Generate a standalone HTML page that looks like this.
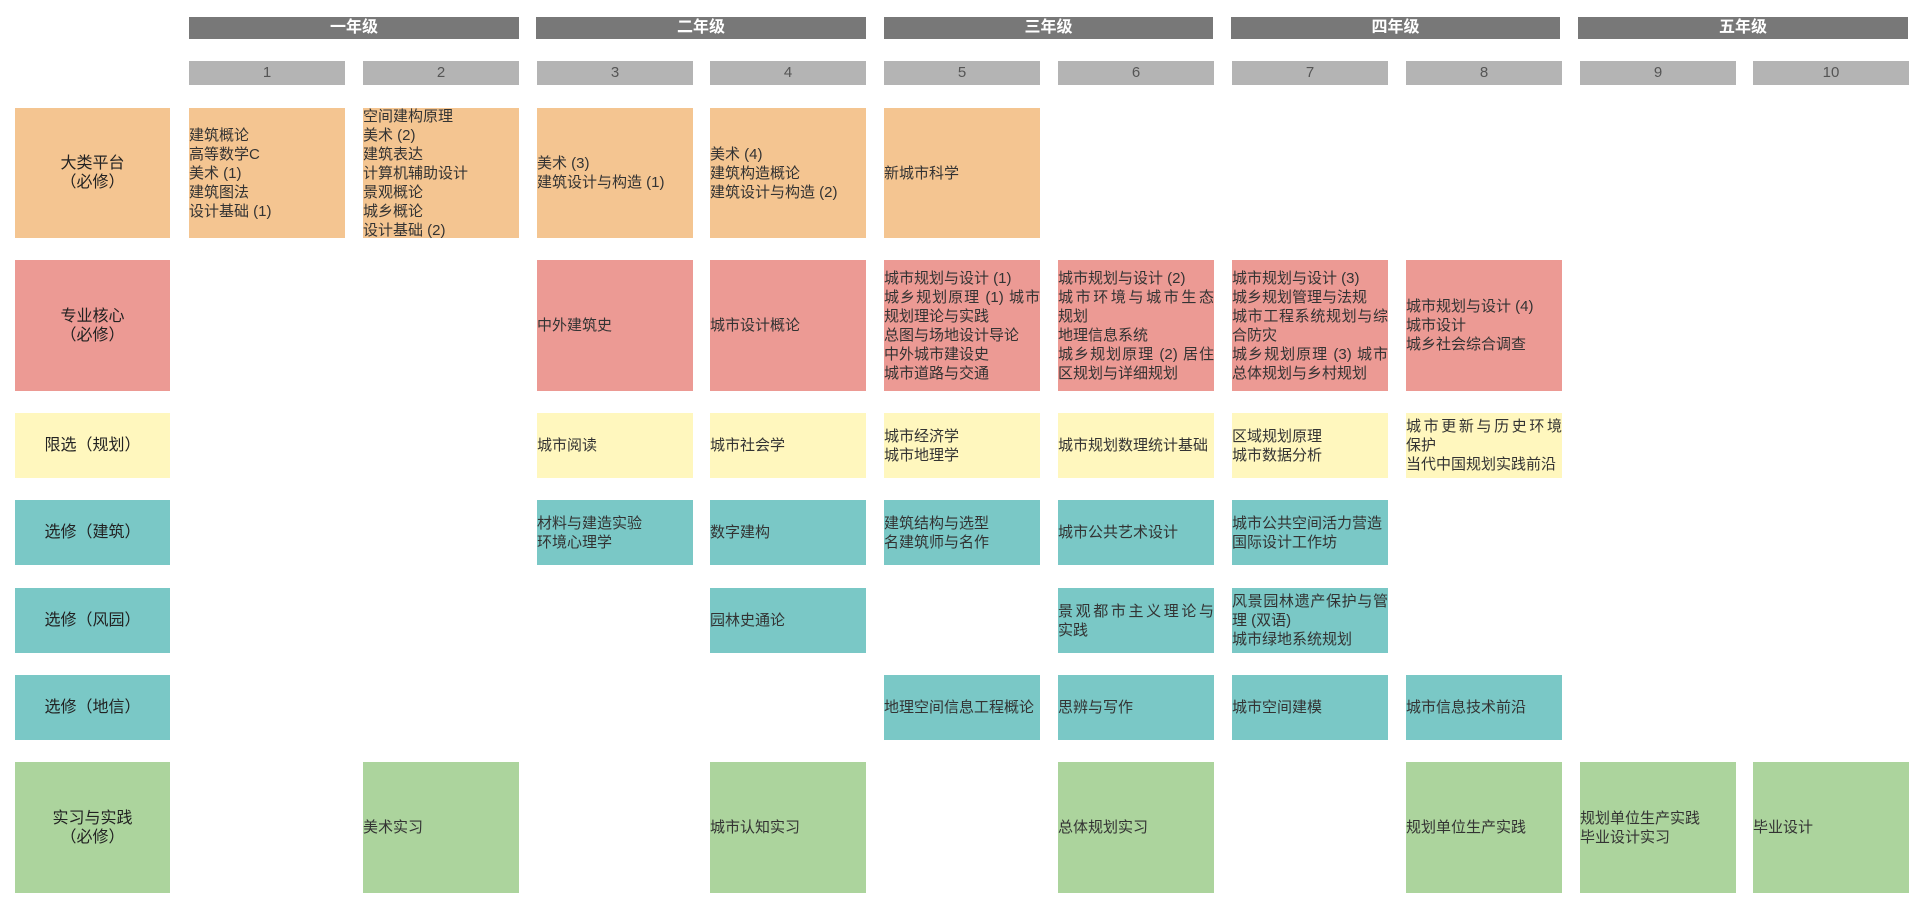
<!DOCTYPE html>
<html><head><meta charset="utf-8"><style>
body{margin:0;width:1920px;height:914px;background:#fff;position:relative;overflow:hidden;font-family:"Liberation Sans","Noto Sans CJK SC",sans-serif}
.b{position:absolute;display:flex;flex-direction:column;justify-content:center;box-sizing:border-box;font-size:15px;line-height:19px;color:#333;text-align:justify;text-align-last:left}
.j{display:block;text-align-last:justify}
.y{position:absolute;top:17px;height:22px;background:#787878;color:#fff;font-weight:bold;font-size:16px;line-height:22px;text-align:center}
.s{position:absolute;top:61px;height:24px;background:#b4b4b4;color:#555;font-size:15px;line-height:24px;text-align:center}
.l{position:absolute;left:15px;width:155px;display:flex;align-items:center;justify-content:center;text-align:center;font-size:16px;line-height:19px;color:#222}
.o{background:#f4c591}.r{background:#ec9a94}.ye{background:#fff7be}.t{background:#7ac8c6}.g{background:#acd49d}
</style></head><body>
<div class="y" style="left:189px;width:330px">一年级</div>
<div class="y" style="left:536px;width:330px">二年级</div>
<div class="y" style="left:884px;width:329px">三年级</div>
<div class="y" style="left:1231px;width:329px">四年级</div>
<div class="y" style="left:1578px;width:330px">五年级</div>
<div class="s" style="left:189px;width:156px">1</div>
<div class="s" style="left:363px;width:156px">2</div>
<div class="s" style="left:537px;width:156px">3</div>
<div class="s" style="left:710px;width:156px">4</div>
<div class="s" style="left:884px;width:156px">5</div>
<div class="s" style="left:1058px;width:156px">6</div>
<div class="s" style="left:1232px;width:156px">7</div>
<div class="s" style="left:1406px;width:156px">8</div>
<div class="s" style="left:1580px;width:156px">9</div>
<div class="s" style="left:1753px;width:156px">10</div>

<div class="l o" style="top:108px;height:130px">大类平台<br>（必修）</div>
<div class="l r" style="top:260px;height:131px">专业核心<br>（必修）</div>
<div class="l ye" style="top:413px;height:65px">限选（规划）</div>
<div class="l t" style="top:500px;height:65px">选修（建筑）</div>
<div class="l t" style="top:588px;height:65px">选修（风园）</div>
<div class="l t" style="top:675px;height:65px">选修（地信）</div>
<div class="l g" style="top:762px;height:131px">实习与实践<br>（必修）</div>

<div class="b o" style="left:189px;top:108px;width:156px;height:130px">建筑概论<br>高等数学C<br>美术 (1)<br>建筑图法<br>设计基础 (1)</div>
<div class="b o" style="left:363px;top:108px;width:156px;height:130px">空间建构原理<br>美术 (2)<br>建筑表达<br>计算机辅助设计<br>景观概论<br>城乡概论<br>设计基础 (2)</div>
<div class="b o" style="left:537px;top:108px;width:156px;height:130px">美术 (3)<br>建筑设计与构造 (1)</div>
<div class="b o" style="left:710px;top:108px;width:156px;height:130px">美术 (4)<br>建筑构造概论<br>建筑设计与构造 (2)</div>
<div class="b o" style="left:884px;top:108px;width:156px;height:130px">新城市科学</div>

<div class="b r" style="left:537px;top:260px;width:156px;height:131px">中外建筑史</div>
<div class="b r" style="left:710px;top:260px;width:156px;height:131px">城市设计概论</div>
<div class="b r" style="left:884px;top:260px;width:156px;height:131px"><div>城市规划与设计 (1)<span class="j">城乡规划原理 (1) 城市</span>规划理论与实践<br>总图与场地设计导论<br>中外城市建设史<br>城市道路与交通</div></div>
<div class="b r" style="left:1058px;top:260px;width:156px;height:131px"><div>城市规划与设计 (2)<span class="j">城市环境与城市生态</span>规划<br>地理信息系统<span class="j">城乡规划原理 (2) 居住</span>区规划与详细规划</div></div>
<div class="b r" style="left:1232px;top:260px;width:156px;height:131px"><div>城市规划与设计 (3)<br>城乡规划管理与法规<span class="j">城市工程系统规划与综</span>合防灾<span class="j">城乡规划原理 (3) 城市</span>总体规划与乡村规划</div></div>
<div class="b r" style="left:1406px;top:260px;width:156px;height:131px">城市规划与设计 (4)<br>城市设计<br>城乡社会综合调查</div>

<div class="b ye" style="left:537px;top:413px;width:156px;height:65px">城市阅读</div>
<div class="b ye" style="left:710px;top:413px;width:156px;height:65px">城市社会学</div>
<div class="b ye" style="left:884px;top:413px;width:156px;height:65px">城市经济学<br>城市地理学</div>
<div class="b ye" style="left:1058px;top:413px;width:156px;height:65px">城市规划数理统计基础</div>
<div class="b ye" style="left:1232px;top:413px;width:156px;height:65px">区域规划原理<br>城市数据分析</div>
<div class="b ye" style="left:1406px;top:413px;width:156px;height:65px"><div><span class="j">城市更新与历史环境</span>保护<br>当代中国规划实践前沿</div></div>

<div class="b t" style="left:537px;top:500px;width:156px;height:65px">材料与建造实验<br>环境心理学</div>
<div class="b t" style="left:710px;top:500px;width:156px;height:65px">数字建构</div>
<div class="b t" style="left:884px;top:500px;width:156px;height:65px">建筑结构与选型<br>名建筑师与名作</div>
<div class="b t" style="left:1058px;top:500px;width:156px;height:65px">城市公共艺术设计</div>
<div class="b t" style="left:1232px;top:500px;width:156px;height:65px">城市公共空间活力营造<br>国际设计工作坊</div>

<div class="b t" style="left:710px;top:588px;width:156px;height:65px">园林史通论</div>
<div class="b t" style="left:1058px;top:588px;width:156px;height:65px"><div><span class="j">景观都市主义理论与</span>实践</div></div>
<div class="b t" style="left:1232px;top:588px;width:156px;height:65px"><div><span class="j">风景园林遗产保护与管</span>理 (双语)<br>城市绿地系统规划</div></div>

<div class="b t" style="left:884px;top:675px;width:156px;height:65px">地理空间信息工程概论</div>
<div class="b t" style="left:1058px;top:675px;width:156px;height:65px">思辨与写作</div>
<div class="b t" style="left:1232px;top:675px;width:156px;height:65px">城市空间建模</div>
<div class="b t" style="left:1406px;top:675px;width:156px;height:65px">城市信息技术前沿</div>

<div class="b g" style="left:363px;top:762px;width:156px;height:131px">美术实习</div>
<div class="b g" style="left:710px;top:762px;width:156px;height:131px">城市认知实习</div>
<div class="b g" style="left:1058px;top:762px;width:156px;height:131px">总体规划实习</div>
<div class="b g" style="left:1406px;top:762px;width:156px;height:131px">规划单位生产实践</div>
<div class="b g" style="left:1580px;top:762px;width:156px;height:131px">规划单位生产实践<br>毕业设计实习</div>
<div class="b g" style="left:1753px;top:762px;width:156px;height:131px">毕业设计</div>
</body></html>
